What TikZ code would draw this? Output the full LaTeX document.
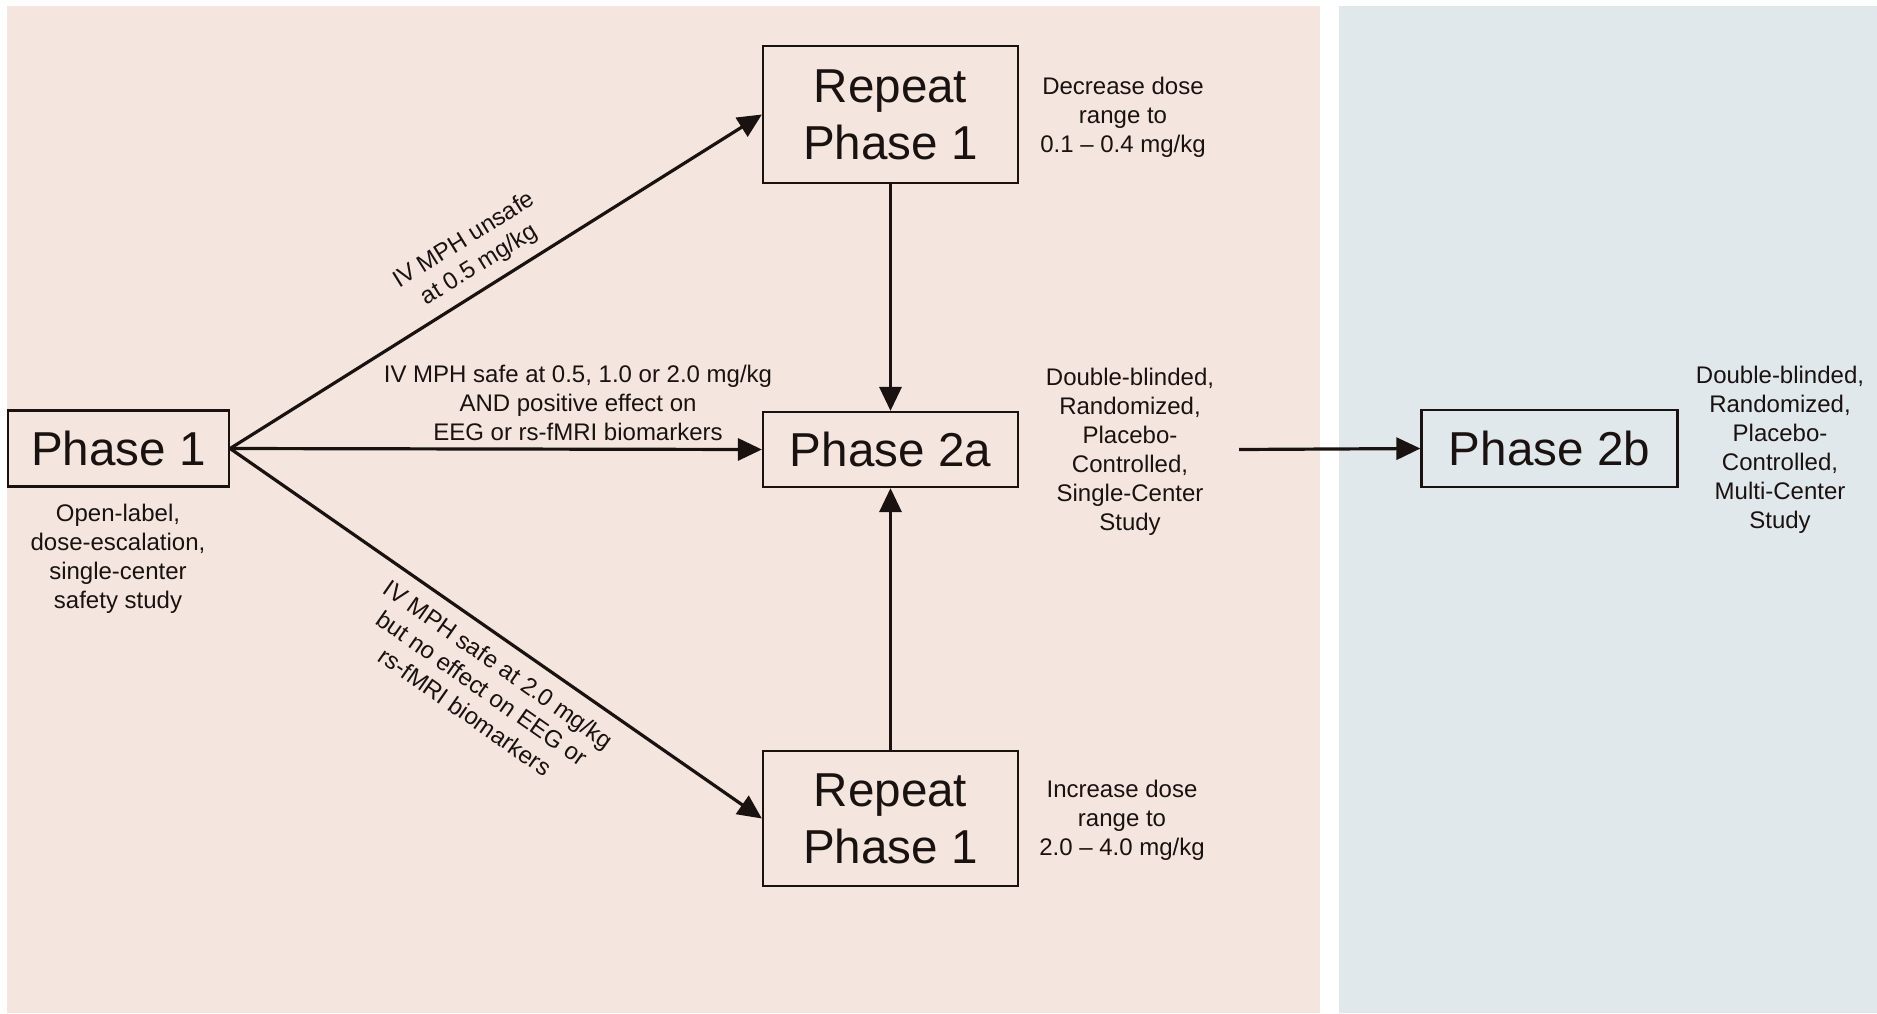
\documentclass[tikz,border=0pt]{standalone}
\usepackage{fontspec}
\setmainfont{Liberation Sans}
\usetikzlibrary{arrows.meta}
\definecolor{tanbg}{RGB}{244,230,222}
\definecolor{bluebg}{RGB}{225,232,236}
\definecolor{ink}{RGB}{26,18,16}
\tikzset{
  phasebox/.style={draw=ink, line width=1.1pt, text=ink, inner sep=0pt, align=center,
    font=\fontsize{23.8}{28.5}\selectfont},
  desc/.style={text=ink, align=center, inner sep=0pt, font=\fontsize{12}{14.5}\selectfont},
  conn/.style={draw=ink, line width=1.6pt, -{Triangle[length=12pt,width=11pt]}},
}
\begin{document}
\begin{tikzpicture}[x=0.5pt,y=-0.5pt]
\useasboundingbox (0,0) rectangle (1877,1013);
\fill[tanbg] (7,6) rectangle (1320,1013);
\fill[bluebg] (1339,6) rectangle (1877,1013);

\node[phasebox, minimum width=110.5pt, minimum height=38pt] (p1) at (118.5,448.5) {Phase 1};
\node[phasebox, minimum width=127.5pt, minimum height=68.5pt] (rep1) at (890.5,114.5) {Repeat\\Phase 1};
\node[phasebox, minimum width=127.5pt, minimum height=37.5pt] (p2a) at (890.5,449.5) {Phase 2a};
\node[phasebox, minimum width=127.5pt, minimum height=67.5pt] (rep2) at (890.5,818.5) {Repeat\\Phase 1};
\node[phasebox, minimum width=128pt, minimum height=38.5pt] (p2b) at (1549.5,448.5) {Phase 2b};

\node[desc] (d1) at (118,559) {Open-label,\\dose-escalation,\\single-center\\safety study};
\node[desc] (drep1) at (1123,117) {Decrease dose\\range to\\0.1 -- 0.4 mg/kg};
\node[desc] (drep2) at (1122,820) {Increase dose\\range to\\2.0 -- 4.0 mg/kg};
\node[desc] (d2a) at (1130,452) {Double-blinded,\\Randomized,\\Placebo-\\Controlled,\\Single-Center\\Study};
\node[desc] (d2b) at (1780,450) {Double-blinded,\\Randomized,\\Placebo-\\Controlled,\\Multi-Center\\Study};

\coordinate (c) at (1239,449.5);

\draw[conn] (p1.east) -- (rep1.west);
\draw[conn] (p1.east) -- (p2a.west);
\draw[conn] (p1.east) -- (rep2.west);
\draw[conn] (rep1.south) -- (p2a.north);
\draw[conn] (rep2.north) -- (p2a.south);
\draw[conn] (c) -- (p2b.west);

\node[desc, rotate=31.8] (l1) at (472,253) {IV MPH unsafe\\at 0.5 mg/kg};
\node[desc] (l2) at (578,403) {IV MPH safe at 0.5, 1.0 or 2.0 mg/kg\\AND positive effect on\\EEG or rs-fMRI biomarkers};
\node[desc, rotate=-35] (l3) at (482,688) {IV MPH safe at 2.0 mg/kg\\but no effect on EEG or\\rs-fMRI biomarkers};
\end{tikzpicture}
\end{document}
